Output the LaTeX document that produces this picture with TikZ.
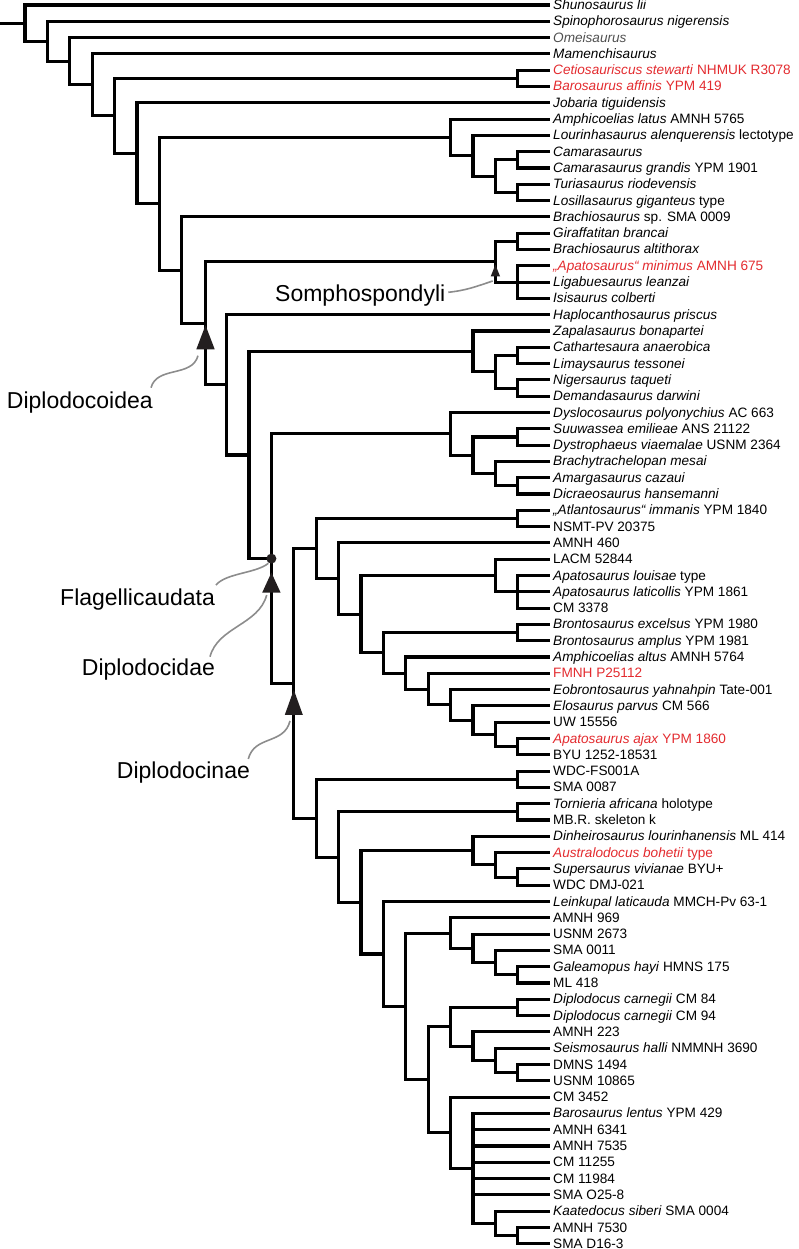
\documentclass[tikz,border=0pt]{standalone}
\usepackage{fontspec}
\setmainfont{Liberation Sans}
\usepackage{tikz}
\usetikzlibrary{calc}
\definecolor{clado-red}{HTML}{E32B2F}
\definecolor{clado-grey}{HTML}{8C8C8C}
\definecolor{clado-dark}{HTML}{505050}
\definecolor{clado-black}{HTML}{231F20}

\tikzset{
  branch/.style={line width=3.1pt},
  taxon/.style={anchor=west,inner xsep=3pt,inner ysep=0pt,text height=9pt,text depth=0pt,
    font=\fontsize{13.6}{16}\selectfont},
  taxonred/.style={taxon,text=clado-red},
  cladename/.style={anchor=base west,inner sep=0pt,font=\fontsize{23}{27}\selectfont},
  cladetip/.style={fill=clado-black},
  pointer/.style={draw=clado-grey,line width=1.6pt},
}

\begin{document}
\begin{tikzpicture}[x=1pt,y=-16.3pt]
  \useasboundingbox (0,0.6933) rectangle (798,77.319);

  % taxa
  \node[taxon] (t1) at (550,1) {\textit{Shunosaurus lii}};
  \node[taxon] (t2) at (550,2) {\textit{Spinophorosaurus nigerensis}};
  \node[taxon,text=clado-dark] (t3) at (550,3) {\textit{Omeisaurus}};
  \node[taxon] (t4) at (550,4) {\textit{Mamenchisaurus}};
  \node[taxonred] (t5) at (550,5) {\textit{Cetiosauriscus stewarti} NHMUK R3078};
  \node[taxonred] (t6) at (550,6) {\textit{Barosaurus affinis} YPM 419};
  \node[taxon] (t7) at (550,7) {\textit{Jobaria tiguidensis}};
  \node[taxon] (t8) at (550,8) {\textit{Amphicoelias latus} AMNH 5765};
  \node[taxon] (t9) at (550,9) {\textit{Lourinhasaurus alenquerensis} lectotype};
  \node[taxon] (t10) at (550,10) {\textit{Camarasaurus}};
  \node[taxon] (t11) at (550,11) {\textit{Camarasaurus grandis} YPM 1901};
  \node[taxon] (t12) at (550,12) {\textit{Turiasaurus riodevensis}};
  \node[taxon] (t13) at (550,13) {\textit{Losillasaurus giganteus} type};
  \node[taxon] (t14) at (550,14) {\textit{Brachiosaurus} sp. SMA 0009};
  \node[taxon] (t15) at (550,15) {\textit{Giraffatitan brancai}};
  \node[taxon] (t16) at (550,16) {\textit{Brachiosaurus altithorax}};
  \node[taxonred] (t17) at (550,17) {\textit{„Apatosaurus“ minimus} AMNH 675};
  \node[taxon] (t18) at (550,18) {\textit{Ligabuesaurus leanzai}};
  \node[taxon] (t19) at (550,19) {\textit{Isisaurus colberti}};
  \node[taxon] (t20) at (550,20) {\textit{Haplocanthosaurus priscus}};
  \node[taxon] (t21) at (550,21) {\textit{Zapalasaurus bonapartei}};
  \node[taxon] (t22) at (550,22) {\textit{Cathartesaura anaerobica}};
  \node[taxon] (t23) at (550,23) {\textit{Limaysaurus tessonei}};
  \node[taxon] (t24) at (550,24) {\textit{Nigersaurus taqueti}};
  \node[taxon] (t25) at (550,25) {\textit{Demandasaurus darwini}};
  \node[taxon] (t26) at (550,26) {\textit{Dyslocosaurus polyonychius} AC 663};
  \node[taxon] (t27) at (550,27) {\textit{Suuwassea emilieae} ANS 21122};
  \node[taxon] (t28) at (550,28) {\textit{Dystrophaeus viaemalae} USNM 2364};
  \node[taxon] (t29) at (550,29) {\textit{Brachytrachelopan mesai}};
  \node[taxon] (t30) at (550,30) {\textit{Amargasaurus cazaui}};
  \node[taxon] (t31) at (550,31) {\textit{Dicraeosaurus hansemanni}};
  \node[taxon] (t32) at (550,32) {\textit{„Atlantosaurus“ immanis} YPM 1840};
  \node[taxon] (t33) at (550,33) {NSMT-PV 20375};
  \node[taxon] (t34) at (550,34) {AMNH 460};
  \node[taxon] (t35) at (550,35) {LACM 52844};
  \node[taxon] (t36) at (550,36) {\textit{Apatosaurus louisae} type};
  \node[taxon] (t37) at (550,37) {\textit{Apatosaurus laticollis} YPM 1861};
  \node[taxon] (t38) at (550,38) {CM 3378};
  \node[taxon] (t39) at (550,39) {\textit{Brontosaurus excelsus} YPM 1980};
  \node[taxon] (t40) at (550,40) {\textit{Brontosaurus amplus} YPM 1981};
  \node[taxon] (t41) at (550,41) {\textit{Amphicoelias altus} AMNH 5764};
  \node[taxonred] (t42) at (550,42) {FMNH P25112};
  \node[taxon] (t43) at (550,43) {\textit{Eobrontosaurus yahnahpin} Tate-001};
  \node[taxon] (t44) at (550,44) {\textit{Elosaurus parvus} CM 566};
  \node[taxon] (t45) at (550,45) {UW 15556};
  \node[taxonred] (t46) at (550,46) {\textit{Apatosaurus ajax} YPM 1860};
  \node[taxon] (t47) at (550,47) {BYU 1252-18531};
  \node[taxon] (t48) at (550,48) {WDC-FS001A};
  \node[taxon] (t49) at (550,49) {SMA 0087};
  \node[taxon] (t50) at (550,50) {\textit{Tornieria africana} holotype};
  \node[taxon] (t51) at (550,51) {MB.R. skeleton k};
  \node[taxon] (t52) at (550,52) {\textit{Dinheirosaurus lourinhanensis} ML 414};
  \node[taxonred] (t53) at (550,53) {\textit{Australodocus bohetii} type};
  \node[taxon] (t54) at (550,54) {\textit{Supersaurus vivianae} BYU+};
  \node[taxon] (t55) at (550,55) {WDC DMJ-021};
  \node[taxon] (t56) at (550,56) {\textit{Leinkupal laticauda} MMCH-Pv 63-1};
  \node[taxon] (t57) at (550,57) {AMNH 969};
  \node[taxon] (t58) at (550,58) {USNM 2673};
  \node[taxon] (t59) at (550,59) {SMA 0011};
  \node[taxon] (t60) at (550,60) {\textit{Galeamopus hayi} HMNS 175};
  \node[taxon] (t61) at (550,61) {ML 418};
  \node[taxon] (t62) at (550,62) {\textit{Diplodocus carnegii} CM 84};
  \node[taxon] (t63) at (550,63) {\textit{Diplodocus carnegii} CM 94};
  \node[taxon] (t64) at (550,64) {AMNH 223};
  \node[taxon] (t65) at (550,65) {\textit{Seismosaurus halli} NMMNH 3690};
  \node[taxon] (t66) at (550,66) {DMNS 1494};
  \node[taxon] (t67) at (550,67) {USNM 10865};
  \node[taxon] (t68) at (550,68) {CM 3452};
  \node[taxon] (t69) at (550,69) {\textit{Barosaurus lentus} YPM 429};
  \node[taxon] (t70) at (550,70) {AMNH 6341};
  \node[taxon] (t71) at (550,71) {AMNH 7535};
  \node[taxon] (t72) at (550,72) {CM 11255};
  \node[taxon] (t73) at (550,73) {CM 11984};
  \node[taxon] (t74) at (550,74) {SMA O25-8};
  \node[taxon] (t75) at (550,75) {\textit{Kaatedocus siberi} SMA 0004};
  \node[taxon] (t76) at (550,76) {AMNH 7530};
  \node[taxon] (t77) at (550,77) {SMA D16-3};

  % internal nodes
  \coordinate (root) at (0,2.1124);
  \coordinate (n1) at (25,2.1124);
  \coordinate (n2) at (47.4,3.2248);
  \coordinate (n3) at (69.8,4.4496);
  \coordinate (n4) at (92.2,5.8993);
  \coordinate (n5) at (114.6,7.7985);
  \coordinate (cetio) at (517.8,5.5);
  \coordinate (n6) at (137,10.0971);
  \coordinate (n7) at (159.4,13.1942);
  \coordinate (cam1) at (450.6,9.125);
  \coordinate (cam2) at (473,10.25);
  \coordinate (cam3) at (495.4,11.5);
  \coordinate (cam4) at (517.8,10.5);
  \coordinate (turia) at (517.8,12.5);
  \coordinate (n8) at (181.8,17.2634);
  \coordinate (n9) at (205.5,20.5267);
  \coordinate (somph) at (495.4,16.75);
  \coordinate (giraf) at (517.8,15.5);
  \coordinate (ligab) at (517.8,18);
  \coordinate (n10) at (226.6,24.3034);
  \coordinate (n11) at (249,28.6068);
  \coordinate (rebb1) at (473,22.25);
  \coordinate (rebb2) at (495.4,23.5);
  \coordinate (cath) at (517.8,22.5);
  \coordinate (niger) at (517.8,24.5);
  \coordinate (flag) at (271.4,34.9636);
  \coordinate (dicr1) at (450.6,27.3125);
  \coordinate (dicr2) at (473,28.625);
  \coordinate (suuw) at (517.8,27.5);
  \coordinate (dicr3) at (495.4,29.75);
  \coordinate (amar) at (517.8,30.5);
  \coordinate (dipl) at (293.8,42.6147);
  \coordinate (apat1) at (316.2,34.3428);
  \coordinate (atlan) at (517.8,32.5);
  \coordinate (apat2) at (338.6,36.1855);
  \coordinate (apat3) at (361,38.3711);
  \coordinate (lacm) at (495.4,36);
  \coordinate (louis) at (517.8,37);
  \coordinate (apat4) at (383.4,40.7422);
  \coordinate (bront) at (517.8,39.5);
  \coordinate (apat5) at (405.8,41.9844);
  \coordinate (apat6) at (428.2,42.9688);
  \coordinate (apat7) at (450.6,43.9375);
  \coordinate (apat8) at (473,44.875);
  \coordinate (apat9) at (495.4,45.75);
  \coordinate (ajax) at (517.8,46.5);
  \coordinate (dino1) at (316.2,50.8867);
  \coordinate (wdcfs) at (517.8,48.5);
  \coordinate (dino2) at (338.6,53.2734);
  \coordinate (tornier) at (517.8,50.5);
  \coordinate (dino3) at (361,56.0469);
  \coordinate (dinh) at (473,52.875);
  \coordinate (austr) at (495.4,53.75);
  \coordinate (super) at (517.8,54.5);
  \coordinate (dino4) at (383.4,59.2188);
  \coordinate (dino5) at (405.8,62.4375);
  \coordinate (gale1) at (450.6,57.9375);
  \coordinate (gale2) at (473,58.875);
  \coordinate (gale3) at (495.4,59.75);
  \coordinate (gale4) at (517.8,60.5);
  \coordinate (dino6) at (428.2,66.9375);
  \coordinate (dipl1) at (450.6,63.6875);
  \coordinate (carn) at (517.8,62.5);
  \coordinate (dipl2) at (473,64.875);
  \coordinate (dipl3) at (495.4,65.75);
  \coordinate (dmns) at (517.8,66.5);
  \coordinate (baro1) at (450.6,70.1875);
  \coordinate (baro2) at (473,72.375);
  \coordinate (baro3) at (495.4,75.75);
  \coordinate (baro4) at (517.8,76.5);

  % branches
  \draw[branch] (root) -- (n1);
  \foreach \a/\b in {n1/t1.west, n1/n2, n2/t2.west, n2/n3, n3/t3.west, n3/n4,
      n4/t4.west, n4/n5, n5/cetio, n5/n6, cetio/t5.west, cetio/t6.west,
      n6/t7.west, n6/n7, n7/cam1, n7/n8, cam1/t8.west, cam1/cam2,
      cam2/t9.west, cam2/cam3, cam3/cam4, cam3/turia, cam4/t10.west, cam4/t11.west,
      turia/t12.west, turia/t13.west, n8/t14.west, n8/n9, n9/somph, n9/n10,
      somph/giraf, somph/ligab, giraf/t15.west, giraf/t16.west,
      ligab/t17.west, ligab/t18.west, ligab/t19.west,
      n10/t20.west, n10/n11, n11/rebb1, n11/flag, rebb1/t21.west, rebb1/rebb2,
      rebb2/cath, rebb2/niger, cath/t22.west, cath/t23.west, niger/t24.west, niger/t25.west,
      flag/dicr1, flag/dipl, dicr1/t26.west, dicr1/dicr2, dicr2/suuw, dicr2/dicr3,
      suuw/t27.west, suuw/t28.west, dicr3/t29.west, dicr3/amar, amar/t30.west, amar/t31.west,
      dipl/apat1, dipl/dino1, apat1/atlan, apat1/apat2, atlan/t32.west, atlan/t33.west,
      apat2/t34.west, apat2/apat3, apat3/lacm, apat3/apat4, lacm/t35.west, lacm/louis,
      louis/t36.west, louis/t37.west, louis/t38.west, apat4/bront, apat4/apat5,
      bront/t39.west, bront/t40.west, apat5/t41.west, apat5/apat6, apat6/t42.west, apat6/apat7,
      apat7/t43.west, apat7/apat8, apat8/t44.west, apat8/apat9, apat9/t45.west, apat9/ajax,
      ajax/t46.west, ajax/t47.west,
      dino1/wdcfs, dino1/dino2, wdcfs/t48.west, wdcfs/t49.west, dino2/tornier, dino2/dino3,
      tornier/t50.west, tornier/t51.west, dino3/dinh, dino3/dino4, dinh/t52.west, dinh/austr,
      austr/t53.west, austr/super, super/t54.west, super/t55.west,
      dino4/t56.west, dino4/dino5, dino5/gale1, dino5/dino6, gale1/t57.west, gale1/gale2,
      gale2/t58.west, gale2/gale3, gale3/t59.west, gale3/gale4, gale4/t60.west, gale4/t61.west,
      dino6/dipl1, dino6/baro1, dipl1/carn, dipl1/dipl2, carn/t62.west, carn/t63.west,
      dipl2/t64.west, dipl2/dipl3, dipl3/t65.west, dipl3/dmns, dmns/t66.west, dmns/t67.west,
      baro1/t68.west, baro1/baro2, baro2/t69.west, baro2/t70.west, baro2/t71.west,
      baro2/t72.west, baro2/t73.west, baro2/t74.west, baro2/baro3,
      baro3/t75.west, baro3/baro4, baro4/t76.west, baro4/t77.west}
    \draw[branch] (\a) |- (\b);

  % clade markers
  \fill[cladetip] ([yshift=-3pt]somph) -- ++(-4.7pt,-11.7pt) -- ++(9.4pt,0pt) -- cycle;
  \fill[cladetip] ([yshift=-2pt]n9) -- ++(-9.2pt,-24pt) -- ++(18.4pt,0pt) -- cycle;
  \fill[cladetip] (flag) circle (5pt);
  \fill[cladetip] ([yshift=-14pt]flag) -- ++(-9.2pt,-20pt) -- ++(18.4pt,0pt) -- cycle;
  \fill[cladetip] ([yshift=-6.5pt]dipl) -- ++(-9pt,-25pt) -- ++(18pt,0pt) -- cycle;

  % clade names
  \node[cladename] (somphLbl) at (275,19.202) {Somphospondyli};
  \node[cladename] (diploidLbl) at (6.7,25.785) {Diplodocoidea};
  \node[cladename] (flagLbl) at (60,37.810) {Flagellicaudata};
  \node[cladename] (diplidLbl) at (81.7,42.104) {Diplodocidae};
  \node[cladename] (diplinLbl) at (116.7,48.442) {Diplodocinae};

  \coordinate (somphA) at (448.3,18.626);
  \coordinate (somphB) at (492.7,17.933);
  \coordinate (diploidA) at (151,24.479);
  \coordinate (diploidB) at (198,22.515);
  \coordinate (flagA) at (216,36.583);
  \coordinate (flagB) at (268.3,35.252);
  \coordinate (diplidA) at (210,40.982);
  \coordinate (diplidB) at (266.7,37.196);
  \coordinate (diplinA) at (248.3,47.258);
  \coordinate (diplinB) at (290,44.926);

  \draw[pointer] (somphA) .. controls +(18pt,2pt) and +(-18pt,-6pt) .. (somphB);
  \draw[pointer] (diploidA) .. controls +(6pt,22pt) and +(-6pt,-22pt) .. (diploidB);
  \draw[pointer] (flagA) .. controls +(10pt,12pt) and +(-12pt,-10pt) .. (flagB);
  \draw[pointer] (diplidA) .. controls +(8pt,30pt) and +(-8pt,-30pt) .. (diplidB);
  \draw[pointer] (diplinA) .. controls +(6pt,24pt) and +(-6pt,-24pt) .. (diplinB);
\end{tikzpicture}
\end{document}
